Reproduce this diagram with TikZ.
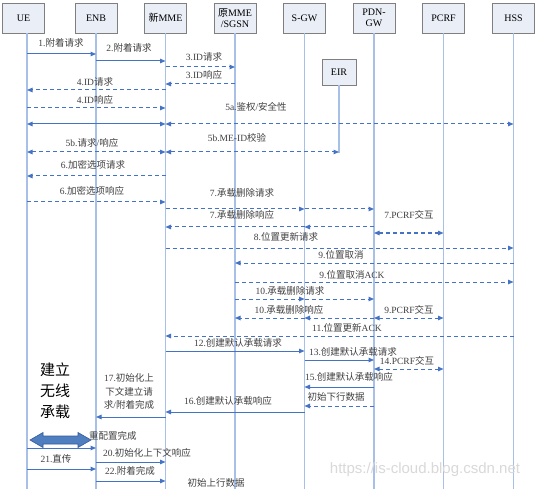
\documentclass[tikz,border=0pt]{standalone}
\usepackage{fontspec}
\setmainfont{Liberation Serif}
\newfontfamily\zhf{Noto Sans CJK SC}
\newfontfamily\wmf{Liberation Sans}
\usetikzlibrary{arrows.meta}
\newcommand\zh[1]{{\zhf #1}}
\newcommand\msg[4]{\draw[#1] (#2 |- 0,#4) -- (#3 |- 0,#4);}
\definecolor{lifec}{HTML}{A8C0E8}
\definecolor{arrc}{HTML}{4472C4}
\definecolor{boxf}{HTML}{E9EEF7}
\definecolor{boxd}{HTML}{7F7F7F}
\definecolor{labc}{HTML}{404040}
\definecolor{bigc}{HTML}{4F7FBF}
\begin{document}
\begin{tikzpicture}[x=1pt,y=-1pt,
  actor/.style={draw=boxd, fill=boxf, line width=0.8pt, minimum width=42pt, minimum height=30pt, inner sep=0pt, align=center, font=\fontsize{10}{11}\selectfont},
  life/.style={draw=lifec, line width=1.2pt},
  sol/.style={draw=arrc, line width=1pt, -{Triangle[length=5.5pt,width=4.5pt]}},
  das/.style={sol, dash pattern=on 4pt off 3pt},
  sol2/.style={sol, {Triangle[length=5.5pt,width=4.5pt]}-{Triangle[length=5.5pt,width=4.5pt]}},
  das2/.style={das, {Triangle[length=5.5pt,width=4.5pt]}-{Triangle[length=5.5pt,width=4.5pt]}},
  lab/.style={font=\fontsize{9.5}{11}\selectfont, text=labc, inner sep=0pt},
]
\useasboundingbox (0,0) rectangle (538,489);
\fill[white] (0,0) rectangle (538,489);

% actors
\node[actor] (ue) at (23.5,18) {UE};
\node[actor] (enb) at (96,18) {ENB};
\node[actor] (nmme) at (165.5,18) {\zh{新}MME};
\node[actor] (omme) at (235,18) {\zh{原}MME\\/SGSN};
\node[actor] (sgw) at (304.5,18) {S-GW};
\node[actor] (pgw) at (374,18) {PDN-\\GW};
\node[actor] (pcrf) at (443.5,18) {PCRF};
\node[actor] (hss) at (513.5,18) {HSS};
\node[actor, minimum width=34pt, minimum height=26pt] (eir) at (339,72) {EIR};

% lifeline coordinates
\coordinate (lue) at (27,33);
\coordinate (lenb) at (96,33);
\coordinate (lnmme) at (165.5,33);
\coordinate (lomme) at (235,33);
\coordinate (lsgw) at (304.5,33);
\coordinate (lpgw) at (374,33);
\coordinate (lpcrf) at (443.5,33);
\coordinate (lhss) at (513.5,33);
\coordinate (leir) at (339,85);

\foreach \l in {lue,lenb,lnmme,lomme,lsgw,lpgw,lpcrf,lhss}
  \draw[life] (\l) -- (\l |- 0,489);
\draw[life] (leir) -- (leir |- 0,153);

% messages
\msg{sol}{lue}{lenb}{54}
\node[lab] at (61,43) {1.\zh{附着请求}};
\msg{sol}{lenb}{lnmme}{61}
\node[lab] at (129,48) {2.\zh{附着请求}};
\msg{das}{lnmme}{lomme}{67}
\node[lab] at (204,57) {3.ID\zh{请求}};
\msg{das}{lomme}{lnmme}{84}
\node[lab] at (204,75) {3.ID\zh{响应}};
\msg{das}{lnmme}{lue}{90}
\node[lab] at (95,82) {4.ID\zh{请求}};
\msg{das}{lue}{lnmme}{108}
\node[lab] at (95,100) {4.ID\zh{响应}};
\msg{sol2}{lue}{lnmme}{124}
\msg{das2}{lnmme}{lhss}{124}
\node[lab] at (256,107) {5a.\zh{鉴权}/\zh{安全性}};
\msg{das2}{lue}{lnmme}{152}
\node[lab] at (92,143) {5b.\zh{请求}/\zh{响应}};
\msg{das2}{lnmme}{leir}{152}
\node[lab] at (237,138) {5b.ME-ID\zh{校验}};
\msg{das}{lnmme}{lue}{176}
\node[lab] at (93,165) {6.\zh{加密选项请求}};
\msg{das}{lue}{lnmme}{202}
\node[lab] at (92,191) {6.\zh{加密选项响应}};
\msg{das}{lnmme}{lsgw}{209}
\msg{das}{lsgw}{lpgw}{209}
\node[lab] at (242,193) {7.\zh{承载删除请求}};
\msg{das}{lpgw}{lsgw}{227}
\msg{das}{lsgw}{lnmme}{227}
\node[lab] at (242,215) {7.\zh{承载删除响应}};
\msg{das2}{lpgw}{lpcrf}{233}
\node[lab] at (409,215) {7.PCRF\zh{交互}};
\msg{das}{lnmme}{lhss}{248}
\node[lab] at (286,237) {8.\zh{位置更新请求}};
\msg{das}{lhss}{lomme}{263}
\node[lab] at (341,255) {9.\zh{位置取消}};
\msg{das}{lomme}{lhss}{282}
\node[lab] at (352,275) {9.\zh{位置取消}ACK};
\msg{das}{lomme}{lsgw}{299}
\msg{das}{lsgw}{lpgw}{299}
\node[lab] at (290,291) {10.\zh{承载删除请求}};
\msg{das}{lpgw}{lsgw}{318}
\msg{das}{lsgw}{lomme}{318}
\node[lab] at (289,310) {10.\zh{承载删除响应}};
\msg{das2}{lpgw}{lpcrf}{318}
\node[lab] at (409,310) {9.PCRF\zh{交互}};
\msg{das}{lhss}{lnmme}{336}
\node[lab] at (347,328) {11.\zh{位置更新}ACK};
\msg{sol}{lnmme}{lsgw}{351}
\node[lab] at (238,343) {12.\zh{创建默认承载请求}};
\msg{sol}{lsgw}{lpgw}{360}
\node[lab] at (353,351.5) {13.\zh{创建默认承载请求}};
\msg{das2}{lpgw}{lpcrf}{369}
\node[lab] at (407,361) {14.PCRF\zh{交互}};
\msg{sol}{lpgw}{lsgw}{387}
\node[lab] at (349,377) {15.\zh{创建默认承载响应}};
\msg{das}{lpgw}{lsgw}{406}
\node[lab] at (336,397) {\zh{初始下行数据}};
\msg{sol}{lsgw}{lnmme}{412}
\node[lab] at (228,401) {16.\zh{创建默认承载响应}};
\msg{sol}{lnmme}{lenb}{417}
\node[lab, align=center, font=\fontsize{9.5}{13.5}\selectfont] at (129,391.5) {17.\zh{初始化上}\\\zh{下文建立请}\\\zh{求}/\zh{附着完成}};
\node[font=\zhf\fontsize{15}{21}\selectfont, align=center, inner sep=0pt] (rb) at (55,391) {建立\\无线\\承载};
\msg{sol}{lue}{lenb}{448}
\node[lab, anchor=west] at (89,436) {\zh{重配置完成}};
\msg{sol}{lenb}{lnmme}{462}
\node[lab] at (147,453) {20.\zh{初始化上下文响应}};
\msg{sol}{lue}{lenb}{469}
\node[lab] at (56,459) {21.\zh{直传}};
\msg{sol}{lenb}{lnmme}{481}
\node[lab] at (130,471) {22.\zh{附着完成}};
\node[lab] at (216,483) {\zh{初始上行数据}};

% big double arrow
\filldraw[fill=bigc, draw=arrc!80!black, line width=0.6pt]
  (30,440) -- (43,432.5) -- (43,436) -- (78,436) -- (78,432.5) -- (91,440)
  -- (78,447.5) -- (78,444) -- (43,444) -- (43,447.5) -- cycle;

% watermark
\node[font=\wmf\fontsize{15}{15}\selectfont, text=gray!30, inner sep=0pt] at (425,470) {https://is-cloud.blog.csdn.net};
\end{tikzpicture}
\end{document}
